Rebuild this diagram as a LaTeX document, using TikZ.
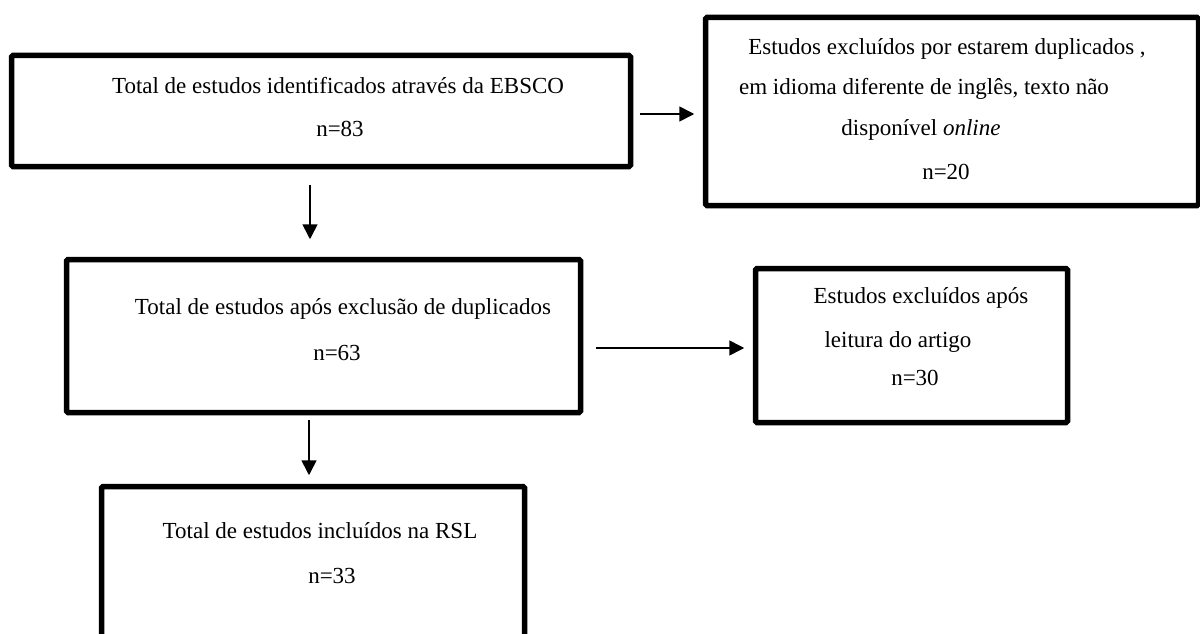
\documentclass[tikz,border=0pt]{standalone}
\usepackage{fontspec}
\setmainfont{Liberation Serif}
\usetikzlibrary{arrows.meta}

\tikzset{
    caixa/.style={draw, line width=5.5pt, rounded corners=1.5pt, inner sep=0pt},
    texto/.style={font=\fontsize{23}{27}\selectfont, inner sep=0pt, text height=16pt, text depth=5pt},
    seta/.style={-{Triangle[length=15pt,width=15pt]}, line width=1.6pt},
}

\begin{document}
\begin{tikzpicture}[x=1pt,y=-1pt]
    \useasboundingbox (0,0) rectangle (1200,634);

    \node[caixa, minimum width=619pt, minimum height=111pt] (boxA) at (321,111) {};
    \node[caixa, minimum width=493pt, minimum height=188pt] (boxB) at (952,111.5) {};
    \node[caixa, minimum width=514pt, minimum height=153pt] (boxC) at (323.5,336) {};
    \node[caixa, minimum width=312pt, minimum height=154pt] (boxD) at (911.5,345.5) {};
    \node[caixa, minimum width=423pt, minimum height=173pt] (boxE) at (313,573) {};

    \node[texto] (tA1) at (338,88) {Total de estudos identificados através da EBSCO};
    \node[texto] (tA2) at (340,131) {n=83};

    \node[texto] (tB1) at (947,49) {Estudos excluídos por estarem duplicados ,};
    \node[texto] (tB2) at (924,89) {em idioma diferente de inglês, texto não};
    \node[texto] (tB3) at (921,130) {disponível \textit{online}};
    \node[texto] (tB4) at (946,174) {n=20};

    \node[texto] (tC1) at (343,309) {Total de estudos após exclusão de duplicados};
    \node[texto] (tC2) at (337,355) {n=63};

    \node[texto] (tD1) at (921,298) {Estudos excluídos após};
    \node[texto] (tD2) at (898,342) {leitura do artigo};
    \node[texto] (tD3) at (915,380) {n=30};

    \node[texto] (tE1) at (320,533) {Total de estudos incluídos na RSL};
    \node[texto] (tE2) at (332,578) {n=33};

    \draw[seta, shorten <=6.5pt, shorten >=8.5pt] ([yshift=-3pt]boxA.east) -- ([yshift=-3pt]boxA.east -| boxB.west);
    \draw[seta, shorten <=15.5pt, shorten >=17.5pt] ([xshift=-11pt]boxA.south) -- ([xshift=-11pt]boxA.south |- boxC.north);
    \draw[seta, shorten <=12.5pt, shorten >=8.5pt] ([yshift=-12pt]boxC.east) -- ([yshift=-12pt]boxC.east -| boxD.west);
    \draw[seta, shorten <=4.5pt, shorten >=8.5pt] ([xshift=-14.5pt]boxC.south) -- ([xshift=-14.5pt]boxC.south |- boxE.north);
\end{tikzpicture}
\end{document}
